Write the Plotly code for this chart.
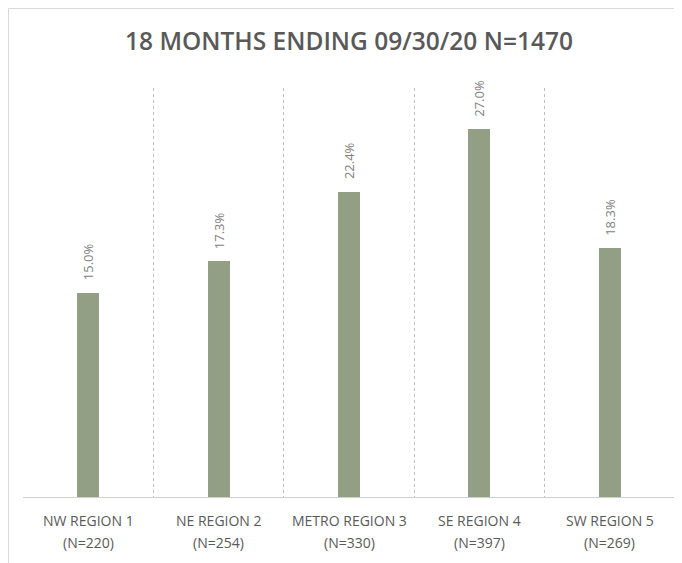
import plotly.graph_objects as go

regions = ["NW REGION 1", "NE REGION 2", "METRO REGION 3", "SE REGION 4", "SW REGION 5"]
counts = ["(N=220)", "(N=254)", "(N=330)", "(N=397)", "(N=269)"]
values = [15.0, 17.3, 22.4, 27.0, 18.3]
title = "18 MONTHS ENDING 09/30/20 N=1470"

# the page body adds an 8px offset, compensated in the margins
L, R, T, B = 15, 15, 80, 74
H = 563
plot_h = H - T - B

fig = go.Figure(go.Bar(
    x=regions, y=values,
    marker=dict(color="#939f85", line=dict(width=0)),
    width=0.17,
))

annotations = []
for r, c, v in zip(regions, counts, values):
    annotations.append(dict(x=r, y=v, xref="x", yref="y", text=f"{v:.1f}%",
                            showarrow=False, textangle=-90, yanchor="bottom",
                            xanchor="center", yshift=10,
                            font=dict(family="Open Sans", size=13, color="#808080")))
    annotations.append(dict(x=r, y=-(512.5 - (T + plot_h)) / plot_h, xref="x", yref="paper",
                            text=r, showarrow=False, yanchor="middle", xanchor="center",
                            font=dict(family="Open Sans", size=14, color="#595959")))
    annotations.append(dict(x=r, y=-(534.5 - (T + plot_h)) / plot_h, xref="x", yref="paper",
                            text=c, showarrow=False, yanchor="middle", xanchor="center",
                            font=dict(family="Open Sans", size=14, color="#595959")))

fig.update_layout(
    width=682, height=H,
    margin=dict(l=L, r=R, t=T, b=B),
    paper_bgcolor="white", plot_bgcolor="white",
    showlegend=False,
    title=dict(text=title, x=0.5, xref="paper", y=1 - 33 / H, yanchor="middle",
               font=dict(family="Open Sans", size=24.5, color="#595959", weight=600)),
    xaxis=dict(tickson="boundaries", showgrid=True, gridcolor="#bfbfbf", griddash="dot",
               gridwidth=1, showline=True, linecolor="#d0d0d0", linewidth=1,
               ticks="", showticklabels=False),
    yaxis=dict(range=[0, 30], visible=False, showgrid=False, zeroline=False),
    bargap=0,
    annotations=annotations,
    shapes=[dict(type="rect", xref="paper", yref="paper",
                 x0=(0.5 - L) / 652, x1=1.05, y0=-0.3, y1=(T + plot_h - 0.5) / plot_h,
                 line=dict(color="#d9d9d9", width=1), fillcolor="rgba(0,0,0,0)", layer="below")],
)

fig.write_html("out.html")
